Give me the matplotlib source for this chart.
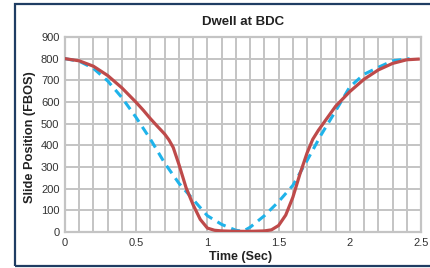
import matplotlib
matplotlib.use("Agg")
import matplotlib.pyplot as plt
from matplotlib.patches import Rectangle

plt.rcParams['font.family'] = ['Liberation Sans', 'DejaVu Sans']

title = "Dwell at BDC"
xlabel = "Time (Sec)"
ylabel = "Slide Position (FBOS)"

# Red solid curve (dwell motion)
red_t = [0, 0.1, 0.2, 0.3, 0.4, 0.5, 0.55, 0.6, 0.65, 0.7, 0.73, 0.76, 0.8,
         0.85, 0.9, 0.95, 1.0, 1.05, 1.1, 1.2, 1.3, 1.4, 1.45, 1.5, 1.55,
         1.6, 1.65, 1.7, 1.74, 1.78, 1.84, 1.9, 2.0, 2.1, 2.2, 2.3, 2.4, 2.48]
red_v = [800, 790, 765, 722, 665, 598, 562, 523, 487, 452, 425, 390, 312,
         205, 125, 58, 18, 8, 5, 3, 3, 5, 10, 30, 78,
         160, 268, 365, 428, 470, 525, 580, 648, 705, 748, 778, 795, 798]

# Blue dashed curve (standard crank motion)
blue_t = [0, 0.1, 0.2, 0.3, 0.4, 0.5, 0.6, 0.7, 0.8, 0.9, 1.0, 1.1, 1.2, 1.25,
          1.3, 1.4, 1.5, 1.6, 1.7, 1.8, 1.9, 2.0, 2.1, 2.2, 2.3, 2.42]
blue_v = [800, 788, 755, 697, 620, 528, 428, 318, 225, 150, 75, 35, 8, 3,
          22, 75, 140, 215, 330, 450, 558, 670, 728, 760, 790, 800]

xticks = [0, 0.5, 1, 1.5, 2, 2.5]
xticklabels = ["0", "0.5", "1", "1.5", "2", "2.5"]
yticks = [0, 100, 200, 300, 400, 500, 600, 700, 800, 900]

W, H = 430, 268
fig = plt.figure(figsize=(W / 100, H / 100), dpi=100)
fig.patch.set_facecolor('white')

# outer frame
fig.patches.append(Rectangle((15 / W, 2 / H), 1.0, (264 - 2) / H,
                             transform=fig.transFigure, fill=False,
                             edgecolor='#1f3d63', linewidth=1.6))

ax = fig.add_axes([65 / W, (H - 232) / H, (421 - 65) / W, (232 - 37) / H])
ax.set_xlim(0, 2.5)
ax.set_ylim(0, 900)

grid_c = '#c4c4c4'
ax.set_xticks([i / 10 for i in range(26)], minor=True)
ax.set_xticks(xticks)
ax.set_xticklabels(xticklabels)
ax.set_yticks(yticks)
ax.grid(True, which='both', color=grid_c, linewidth=1.4)
ax.set_axisbelow(True)
for s in ax.spines.values():
    s.set_color(grid_c)
    s.set_linewidth(1.6)
ax.tick_params(which='both', length=0, labelsize=8, colors='#333333', pad=4)

ax.plot(blue_t, blue_v, color='#1fb3ea', linewidth=2.2,
        dashes=(3.0, 2.0), solid_capstyle='butt', zorder=3)
ax.plot(red_t, red_v, color='#be4a4a', linewidth=2.3,
        solid_joinstyle='round', zorder=4)

fig.text(243 / W, 1 - 22 / H, title, ha='center', va='center',
         fontsize=9.5, fontweight='bold', color='#222222')
fig.text(241 / W, 1 - 257 / H, xlabel, ha='center', va='center',
         fontsize=9, fontweight='bold', color='#222222')
fig.text(30 / W, 1 - 137 / H, ylabel, ha='center', va='center',
         rotation=90, fontsize=9.2, fontweight='bold', color='#222222')

fig.savefig('out.png', dpi=100)
